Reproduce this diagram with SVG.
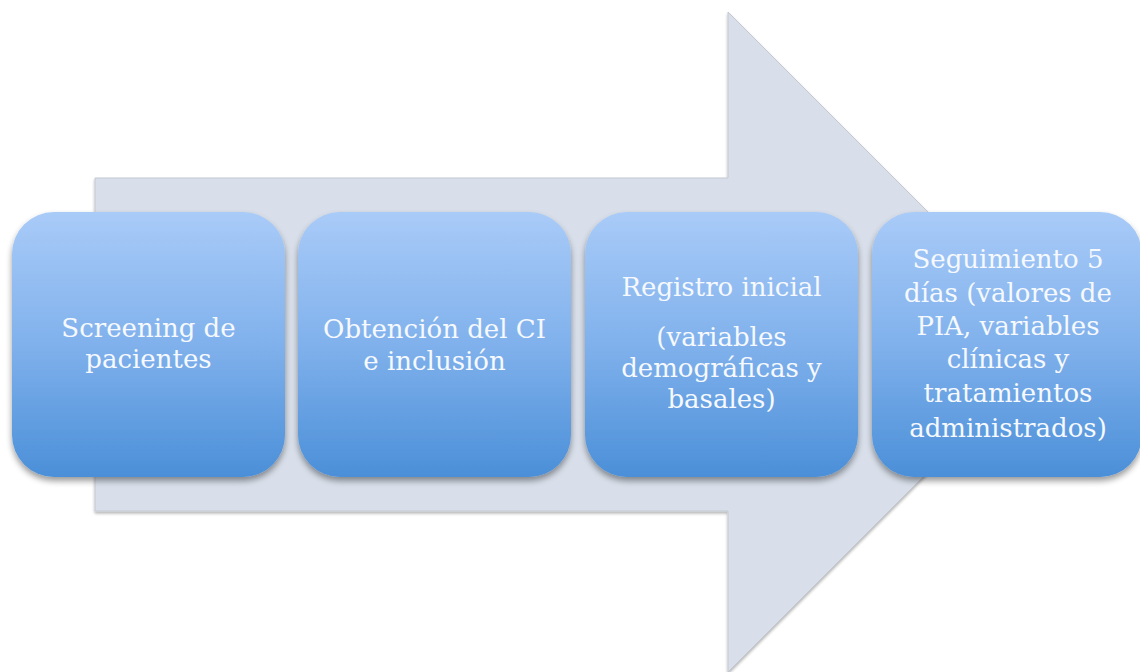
<svg xmlns="http://www.w3.org/2000/svg" width="1140" height="672" viewBox="0 0 1140 672">
  <defs>
    <linearGradient id="boxGrad" x1="0" y1="0" x2="0" y2="1">
      <stop offset="0" stop-color="#a9cbf8"/>
      <stop offset="0.5" stop-color="#80b1ec"/>
      <stop offset="1" stop-color="#4b8fd8"/>
    </linearGradient>
    <filter id="boxShadow" x="-10%" y="-10%" width="120%" height="125%">
      <feGaussianBlur in="SourceAlpha" stdDeviation="3"/>
      <feOffset dx="0" dy="4" result="b"/>
      <feComponentTransfer><feFuncA type="linear" slope="0.4"/></feComponentTransfer>
      <feMerge><feMergeNode/><feMergeNode in="SourceGraphic"/></feMerge>
    </filter>
    <filter id="arrowShadow" x="-5%" y="-5%" width="110%" height="110%">
      <feGaussianBlur in="SourceAlpha" stdDeviation="1.5"/>
      <feOffset dx="0" dy="1.5" result="b"/>
      <feComponentTransfer><feFuncA type="linear" slope="0.3"/></feComponentTransfer>
      <feMerge><feMergeNode/><feMergeNode in="SourceGraphic"/></feMerge>
    </filter>
  </defs>
  <style>
    .box { fill: url(#boxGrad); filter: url(#boxShadow); }
    .lbl { font-family: "DejaVu Serif", "Liberation Serif", serif; font-size: 26px; fill: #f6f9fd; text-anchor: middle; }
  </style>
  <rect width="1140" height="672" fill="#ffffff"/>
  <g id="arrow">
    <path d="M95,178 L728,178 L728,12 L1058,342 L728,672 L728,511 L95,511 Z" fill="#d8dfea" stroke="#c4c9d1" stroke-width="1" filter="url(#arrowShadow)"/>
  </g>
  <g id="connectors"></g>
  <g id="node1">
    <rect class="box" x="12" y="212" width="273" height="265" rx="42" ry="42"/>
    <text class="lbl" x="148.5" y="337">Screening de</text>
    <text class="lbl" x="148.5" y="368">pacientes</text>
  </g>
  <g id="node2">
    <rect class="box" x="298" y="212" width="273" height="265" rx="42" ry="42"/>
    <text class="lbl" x="434.5" y="338">Obtención del CI</text>
    <text class="lbl" x="434.5" y="370">e inclusión</text>
  </g>
  <g id="node3">
    <rect class="box" x="585" y="212" width="273" height="265" rx="42" ry="42"/>
    <text class="lbl" x="721.5" y="296">Registro inicial</text>
    <text class="lbl" x="721.5" y="346">(variables</text>
    <text class="lbl" x="721.5" y="377">demográficas y</text>
    <text class="lbl" x="721.5" y="408">basales)</text>
  </g>
  <g id="node4">
    <rect class="box" x="872" y="212" width="270" height="265" rx="42" ry="42"/>
    <text class="lbl" x="1008" y="268">Seguimiento 5</text>
    <text class="lbl" x="1008" y="302">días (valores de</text>
    <text class="lbl" x="1008" y="335">PIA, variables</text>
    <text class="lbl" x="1008" y="368">clínicas y</text>
    <text class="lbl" x="1008" y="402">tratamientos</text>
    <text class="lbl" x="1008" y="437">administrados)</text>
  </g>
</svg>
